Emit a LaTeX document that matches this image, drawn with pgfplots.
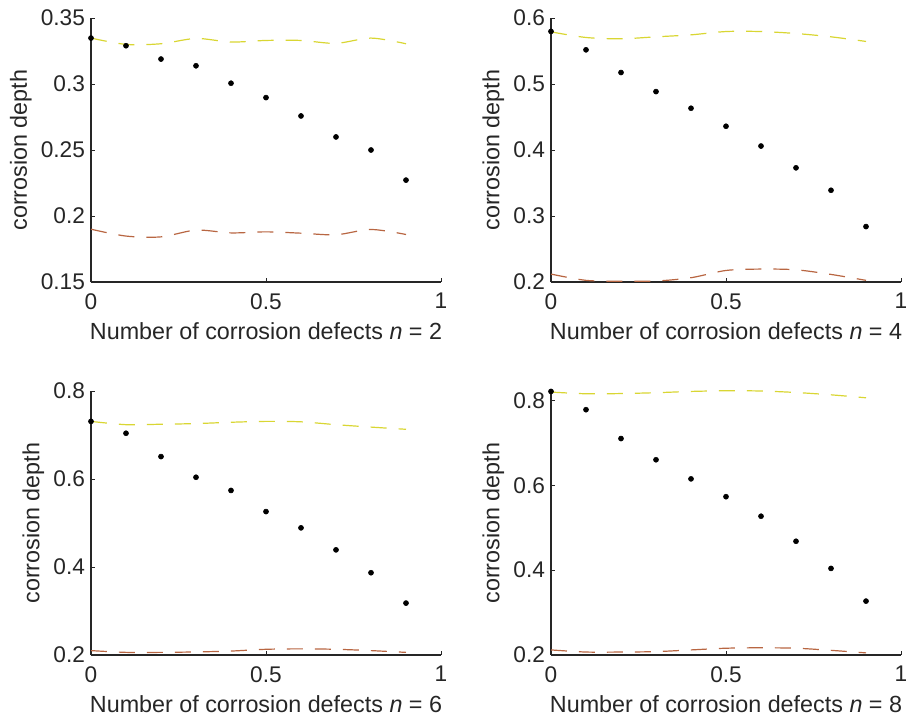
\documentclass[border=0pt]{standalone}
\usepackage{fontspec}
\setmainfont{Liberation Sans}
\usepackage{pgfplots}
\pgfplotsset{compat=1.18}

\definecolor{axgray}{rgb}{0.15,0.15,0.15}
\definecolor{yel}{rgb}{0.85,0.84,0.20}
\definecolor{redl}{rgb}{0.72,0.40,0.26}

\pgfplotsset{
  panel/.style={
    scale only axis, width=262.5pt, height=198pt,
    axis lines=left, axis line style={-, axgray, line width=0.9pt},
    xmin=0, xmax=1, xtick={0,0.5,1},
    tick align=inside, major tick length=3pt, tick style={axgray, line width=0.5pt},
    every tick label/.append style={font=\fontsize{17}{20}\selectfont, text=axgray},
    /pgf/number format/assume math mode=true,
    label style={font=\fontsize{17.5}{21}\selectfont, text=axgray},
    xticklabel style={yshift=-5pt},
    yticklabel style={xshift=-1pt},
    xlabel style={yshift=-3pt},
    ylabel={corrosion depth},
    anchor=south west, clip=false,
  },
  dots/.style={only marks, mark=*, mark size=1.9pt, black},
  yl/.style={yel, dash pattern=on 12pt off 9pt, smooth, line width=0.9pt, no marks},
  rl/.style={redl, dash pattern=on 12pt off 9pt, smooth, line width=0.9pt, no marks},
}

\begin{document}
\begin{tikzpicture}
\useasboundingbox (0,0) rectangle (685.5pt,-544.5pt);

% n = 2
\begin{axis}[panel, at={(68.25pt,-211.5pt)},
  ymin=0.15, ymax=0.35, ytick={0.15,0.2,0.25,0.3,0.35},
  xlabel={Number of corrosion defects \textit{n} = 2}]
\addplot[yl] coordinates {(0,0.3348)(0.1,0.3300)(0.2,0.3305)(0.3,0.3345)(0.4,0.3318)(0.5,0.3330)(0.6,0.3330)(0.7,0.3308)(0.8,0.3348)(0.9,0.3305)};
\addplot[rl] coordinates {(0,0.1900)(0.1,0.1848)(0.2,0.1842)(0.3,0.1893)(0.4,0.1872)(0.5,0.1880)(0.6,0.1870)(0.7,0.1858)(0.8,0.1898)(0.9,0.1860)};
\addplot[dots] coordinates {(0,0.3348)(0.1,0.3290)(0.2,0.3189)(0.3,0.3138)(0.4,0.3006)(0.5,0.2897)(0.6,0.2758)(0.7,0.2599)(0.8,0.2500)(0.9,0.2272)};
\end{axis}

% n = 4
\begin{axis}[panel, at={(413.25pt,-211.5pt)},
  ymin=0.2, ymax=0.6, ytick={0.2,0.3,0.4,0.5,0.6},
  xlabel={Number of corrosion defects \textit{n} = 4}]
\addplot[yl] coordinates {(0,0.5790)(0.1,0.5705)(0.2,0.5685)(0.3,0.5715)(0.4,0.5745)(0.5,0.5795)(0.6,0.5795)(0.7,0.5765)(0.8,0.5715)(0.9,0.5645)};
\addplot[rl] coordinates {(0,0.2120)(0.1,0.2025)(0.2,0.2012)(0.3,0.2015)(0.4,0.2065)(0.5,0.2175)(0.6,0.2196)(0.7,0.2185)(0.8,0.2115)(0.9,0.2025)};
\addplot[dots] coordinates {(0,0.5797)(0.1,0.5518)(0.2,0.5174)(0.3,0.4885)(0.4,0.4633)(0.5,0.4360)(0.6,0.4060)(0.7,0.3730)(0.8,0.3390)(0.9,0.2840)};
\end{axis}

% n = 6
\begin{axis}[panel, at={(68.25pt,-491.25pt)},
  ymin=0.2, ymax=0.8, ytick={0.2,0.4,0.6,0.8},
  xlabel={Number of corrosion defects \textit{n} = 6}]
\addplot[yl] coordinates {(0,0.7310)(0.1,0.7235)(0.2,0.7245)(0.3,0.7260)(0.4,0.7290)(0.5,0.7310)(0.6,0.7300)(0.7,0.7235)(0.8,0.7180)(0.9,0.7130)};
\addplot[rl] coordinates {(0,0.2100)(0.1,0.2060)(0.2,0.2060)(0.3,0.2070)(0.4,0.2090)(0.5,0.2130)(0.6,0.2140)(0.7,0.2130)(0.8,0.2100)(0.9,0.2060)};
\addplot[dots] coordinates {(0,0.7310)(0.1,0.7040)(0.2,0.6510)(0.3,0.6040)(0.4,0.5740)(0.5,0.5260)(0.6,0.4890)(0.7,0.4390)(0.8,0.3870)(0.9,0.3180)};
\end{axis}

% n = 8
\begin{axis}[panel, at={(413.25pt,-491.25pt)},
  ymin=0.2, ymax=0.822, ytick={0.2,0.4,0.6,0.8},
  xlabel={Number of corrosion defects \textit{n} = 8}]
\addplot[yl] coordinates {(0,0.8195)(0.1,0.8155)(0.2,0.8160)(0.3,0.8180)(0.4,0.8210)(0.5,0.8226)(0.6,0.8220)(0.7,0.8185)(0.8,0.8130)(0.9,0.8060)};
\addplot[rl] coordinates {(0,0.2120)(0.1,0.2070)(0.2,0.2070)(0.3,0.2080)(0.4,0.2120)(0.5,0.2160)(0.6,0.2170)(0.7,0.2160)(0.8,0.2110)(0.9,0.2050)};
\addplot[dots] coordinates {(0,0.8210)(0.1,0.7780)(0.2,0.7100)(0.3,0.6600)(0.4,0.6150)(0.5,0.5730)(0.6,0.5270)(0.7,0.4680)(0.8,0.4040)(0.9,0.3270)};
\end{axis}
\end{tikzpicture}
\end{document}
